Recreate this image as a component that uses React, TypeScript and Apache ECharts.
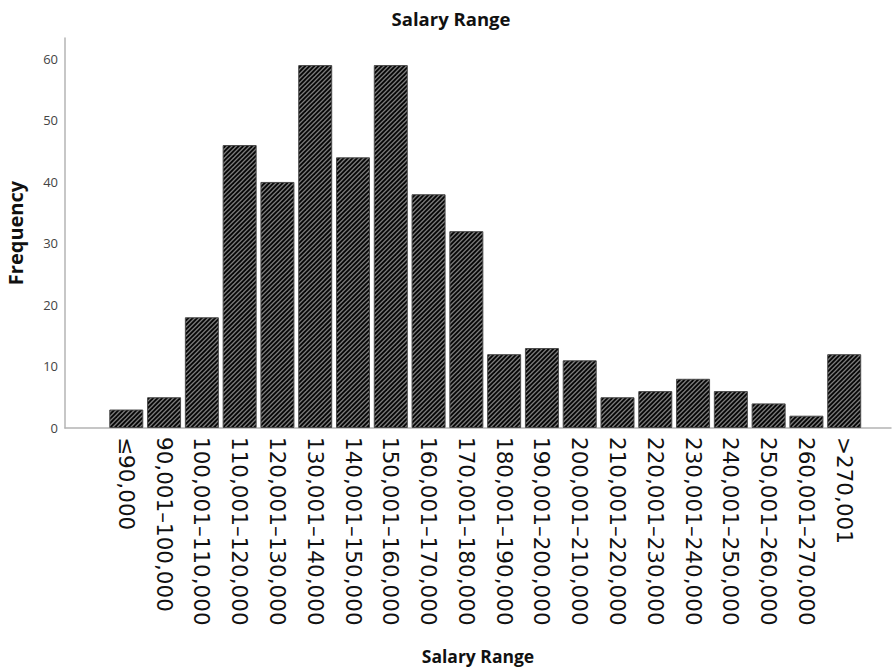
import React, { useEffect, useRef } from "react";
import * as echarts from "echarts";

const categories: string[] = [
  "≤90,000",
  "90,001–100,000",
  "100,001–110,000",
  "110,001–120,000",
  "120,001–130,000",
  "130,001–140,000",
  "140,001–150,000",
  "150,001–160,000",
  "160,001–170,000",
  "170,001–180,000",
  "180,001–190,000",
  "190,001–200,000",
  "200,001–210,000",
  "210,001–220,000",
  "220,001–230,000",
  "230,001–240,000",
  "240,001–250,000",
  "250,001–260,000",
  "260,001–270,000",
  ">270,001",
];

const frequencies: number[] = [3, 5, 18, 46, 40, 59, 44, 59, 38, 32, 12, 13, 11, 5, 6, 8, 6, 4, 2, 12];

const yMin = 0;
const yMax = 63.4;
const yInterval = 10;

function makeHatch(): HTMLCanvasElement {
  const size = 9;
  const period = 4.5;
  const c = document.createElement("canvas");
  c.width = size;
  c.height = size;
  const ctx = c.getContext("2d")!;
  ctx.fillStyle = "#060606";
  ctx.fillRect(0, 0, size, size);
  ctx.strokeStyle = "#7c7c7c";
  ctx.lineWidth = 1.3;
  for (let k = -period; k <= 2 * size + period; k += period) {
    ctx.beginPath();
    ctx.moveTo(k + 2, -2);
    ctx.lineTo(k - size - 2, size + 2);
    ctx.stroke();
  }
  return c;
}

export default function App() {
  const ref = useRef<HTMLDivElement>(null);

  useEffect(() => {
    if (!ref.current) return;
    const chart = echarts.init(ref.current, undefined, { renderer: "svg" });
    const axisColor = "#b4b4b4";
    const hatch = makeHatch();
    chart.setOption({
      animation: false,
      backgroundColor: "#ffffff",
      title: {
        text: "Salary Range",
        left: 446,
        textAlign: "center",
        top: 4,
        textStyle: { fontFamily: "Open Sans", fontWeight: "bold", fontSize: 18.5, color: "#111" },
      },
      grid: [
        { left: 65, right: 3, top: 38, bottom: 243, containLabel: false, outerBoundsMode: "none" },
        { left: 107.4, right: 30.9, top: 38, bottom: 243, containLabel: false, outerBoundsMode: "none" },
      ],
      xAxis: [
        {
          gridIndex: 0,
          type: "value",
          min: 0,
          max: 1,
          axisLine: { show: true, onZero: false, lineStyle: { color: axisColor, width: 1.5 } },
          axisTick: { show: false },
          axisLabel: { show: false },
          splitLine: { show: false },
          name: "Salary Range",
          nameLocation: "middle",
          nameGap: 219,
          nameTextStyle: { fontFamily: "Open Sans", fontWeight: "bold", fontSize: 17.5, color: "#111" },
        },
        {
          gridIndex: 1,
          type: "category",
          data: categories,
          axisLine: { show: false },
          axisTick: { show: false },
          axisLabel: {
            interval: 0,
            rotate: -90,
            margin: 9,
            fontFamily: "DejaVu Sans",
            fontSize: 21.5,
            color: "#111",
          },
        },
      ],
      yAxis: [
        {
          gridIndex: 0,
          type: "value",
          min: yMin,
          max: yMax,
          interval: yInterval,
          axisLine: { show: true, lineStyle: { color: axisColor, width: 1.5 } },
          axisTick: { show: false },
          splitLine: { show: false },
          axisLabel: {
            showMaxLabel: false,
            margin: 7,
            fontFamily: "Open Sans",
            fontSize: 13,
            color: "#444",
            formatter: (v: number) => (v % 10 === 0 ? String(v) : ""),
          },
          name: "Frequency",
          nameLocation: "middle",
          nameGap: 40,
          nameTextStyle: { fontFamily: "Open Sans", fontWeight: "bold", fontSize: 20, color: "#111" },
        },
        {
          gridIndex: 1,
          type: "value",
          min: yMin,
          max: yMax,
          show: false,
          splitLine: { show: false },
        },
      ],
      series: [
        {
          type: "bar",
          xAxisIndex: 1,
          yAxisIndex: 1,
          data: frequencies,
          barWidth: 34,
          itemStyle: {
            color: { image: hatch, repeat: "repeat" },
            borderColor: "#4a4a4a",
            borderWidth: 1,
          },
        },
      ],
    });
    return () => chart.dispose();
  }, []);

  return (
    <div
      ref={ref}
      style={{ position: "fixed", left: 0, top: 0, width: 894, height: 671 }}
    />
  );
}
